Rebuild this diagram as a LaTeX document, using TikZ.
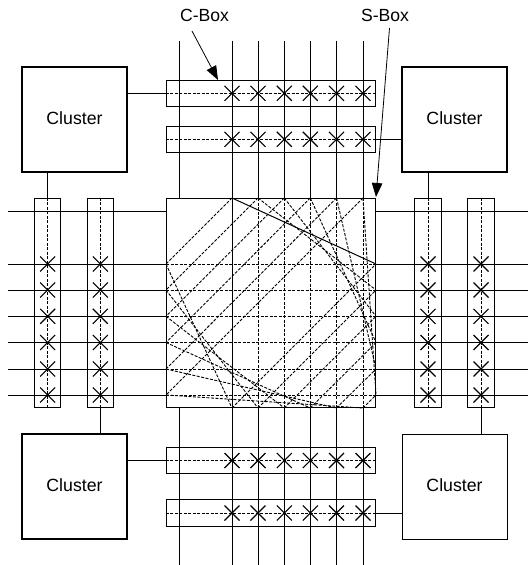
\documentclass[tikz,border=0pt]{standalone}
\usepackage{fontspec}
\setmainfont{Liberation Sans}
\usetikzlibrary{arrows.meta,shapes.misc}
\tikzset{
  wire/.style={line width=1pt},
  track/.style={line width=0.9pt,dash pattern=on 3pt off 1.5pt},
  cluster/.style={draw,line width=1.6pt,minimum size=105pt,inner sep=0pt,text depth=2pt,font=\fontsize{17.7}{20}\selectfont},
  hbox/.style={draw,line width=0.9pt,minimum width=209.6pt,minimum height=26.3pt,inner sep=0pt},
  vbox/.style={draw,line width=0.9pt,minimum width=26.3pt,minimum height=209.6pt,inner sep=0pt},
  xing/.style={draw,cross out,line width=1.1pt,minimum size=15pt,inner sep=0pt,outer sep=0pt},
  callout/.style={font=\fontsize{17.6}{20}\selectfont,inner sep=0pt},
  pointer/.style={line width=0.8pt,-{Triangle[length=14pt,width=10.5pt]}}
}
\begin{document}
\begin{tikzpicture}[x=1pt,y=-1pt]
\useasboundingbox (0,0) rectangle (528,565);

% Pins and wire ends
\foreach \i/\x in {1/232,2/258,3/284.3,4/310.3,5/336.5,6/363}{
  \coordinate (vtop\i) at (\x,41);
  \coordinate (t\i) at (\x,198);
  \coordinate (b\i) at (\x,408);
  \coordinate (vbot\i) at (\x,565);
}
\foreach \i/\y in {1/264,2/290,3/316.3,4/342.5,5/369,6/395}{
  \coordinate (hleft\i) at (8,\y);
  \coordinate (l\i) at (166,\y);
  \coordinate (r\i) at (376,\y);
  \coordinate (hright\i) at (528,\y);
}

% Clusters
\node[cluster] (clusterTL) at (74.5,119.5) {Cluster};
\node[cluster] (clusterTR) at (454.5,119.5) {Cluster};
\node[cluster] (clusterBL) at (74.5,486.5) {Cluster};
\node[cluster,line width=0.9pt] (clusterBR) at (454.5,486.5) {Cluster};

% Boxes
\node[draw,line width=0.9pt,minimum size=209.6pt,inner sep=0pt] (sbox) at (270.8,303) {};
\node[hbox] (cboxA) at (270.8,93.3) {};
\node[hbox] (cboxB) at (270.8,139.3) {};
\node[hbox] (cboxC) at (270.8,460.5) {};
\node[hbox] (cboxD) at (270.8,513) {};
\node[vbox] (cboxE) at (47.7,303) {};
\node[vbox] (cboxF) at (100.3,303) {};
\node[vbox] (cboxG) at (428,303) {};
\node[vbox] (cboxH) at (481,303) {};

% Outer wires
\foreach \i in {1,...,6}{
  \draw[wire] (vtop\i) -- (t\i);
  \draw[wire] (b\i) -- (vbot\i);
  \draw[wire] (hleft\i) -- (l\i);
  \draw[wire] (r\i) -- (hright\i);
}
\coordinate (vtop0) at (179,41);
\coordinate (vbot0) at (179,565);
\coordinate (hleft0) at (8,211.3);
\coordinate (hright0) at (528,211.3);
\draw[wire] (vtop0) -- (vtop0 |- sbox.north);
\draw[wire] (vbot0 |- sbox.south) -- (vbot0);
\draw[wire] (hleft0) -- (hleft0 -| sbox.west);
\draw[wire] (hright0 -| sbox.east) -- (hright0);

% Cluster stubs
\draw[wire] (clusterTL.east |- cboxA) -- (cboxA.west);
\draw[wire] (clusterTR.west |- cboxB) -- (cboxB.east);
\draw[wire] (clusterBL.east |- cboxC) -- (cboxC.west);
\draw[wire] (clusterBR.west |- cboxD) -- (cboxD.east);
\draw[wire] (clusterTL.south -| cboxE) -- (cboxE.north);
\draw[wire] (clusterTR.south -| cboxG) -- (cboxG.north);
\draw[wire] (clusterBL.north -| cboxF) -- (cboxF.south);
\draw[wire] (clusterBR.north -| cboxH) -- (cboxH.south);

% Tracks in the C-boxes
\foreach \c in {A,B,C,D}{
  \draw[track] (cbox\c.west) -- (cbox\c.east);
}
\foreach \c in {E,F,G,H}{
  \draw[track] (cbox\c.north) -- (cbox\c.south);
}

% Crosses
\foreach \c in {A,B,C,D}{
  \foreach \i in {1,...,6}{
    \node[xing] (x\c\i) at (t\i |- cbox\c) {};
  }
}
\foreach \c in {E,F,G,H}{
  \foreach \i in {1,...,6}{
    \node[xing] (x\c\i) at (cbox\c |- l\i) {};
  }
}

% S-box connections
\foreach \i in {1,...,6}{
  \draw[track] (l\i) -- (r\i);
  \draw[track] (t\i) -- (l\i);
  \draw[track] (b\i) -- (r\i);
  \draw[track] (l\i) -- (b\i);
}
\foreach \i in {2,...,6}{
  \draw[track] (t\i) -- (b\i);
  \draw[track] (t\i) -- (r\i);
}
\draw[wire] (t1) -- (b1);
\draw[wire] (t1) -- (r1);

% Labels
\node[callout] (cboxlabel) at (204.5,15) {C-Box};
\node[callout] (sboxlabel) at (385,15) {S-Box};
\coordinate (cboxtail) at (192,31);
\coordinate (cboxhead) at (218,80);
\coordinate (sboxtail) at (389.5,28);
\coordinate (sboxhead) at (376,197);
\draw[pointer] (cboxtail) -- (cboxhead);
\draw[pointer] (sboxtail) -- (sboxhead);

\end{tikzpicture}
\end{document}
